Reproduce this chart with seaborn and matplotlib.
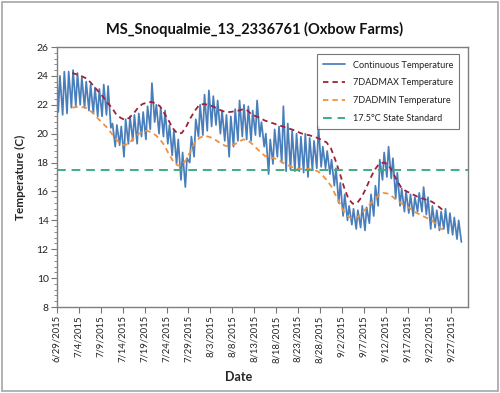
import numpy as np
import pandas as pd
import matplotlib
matplotlib.use("Agg")
import matplotlib.pyplot as plt
import matplotlib.dates as mdates
from matplotlib.ticker import MultipleLocator, FixedLocator
from matplotlib.patches import Rectangle
import seaborn as sns

# ---------------- data ----------------
start_date = "2015-06-29"
start_temp = 23.7

# daily minimum / maximum of the continuous record (one per day from 6/29)
daily_min = [21.5, 21.3, 21.4, 21.8, 21.9, 22.0, 21.8, 21.6, 21.4, 21.2, 21.2, 21.3,
             20.4, 19.1, 19.2, 18.4, 19.3, 19.5, 19.3, 19.8, 19.6, 20.3, 20.8, 20.0,
             19.8, 19.3, 18.5, 17.9, 16.8, 16.3, 18.0, 18.4, 19.8, 19.9, 20.2, 20.5,
             20.6, 20.0, 19.5, 18.4, 19.1, 19.5, 19.8, 19.6, 19.5, 19.9, 19.8, 19.1,
             17.2, 17.9, 18.4, 18.0, 17.4, 17.5, 17.4, 17.4, 17.3, 17.0, 17.5, 17.6,
             17.7, 17.6, 17.2, 16.4, 15.2, 14.3, 14.0, 13.7, 13.4, 13.5, 13.3, 13.8,
             14.3, 15.0, 16.8, 17.0, 16.9, 15.5, 15.0, 14.6, 14.5, 14.3, 14.6, 14.6,
             14.4, 13.4, 13.5, 13.3, 13.4, 13.1, 13.0, 12.7, 12.5]
daily_max = [24.0, 24.3, 24.3, 24.4, 24.2, 23.9, 23.6, 23.4, 23.2, 23.1, 23.4, 23.3,
             20.7, 20.6, 20.5, 21.0, 21.2, 21.3, 21.4, 21.5, 21.9, 23.5, 22.0, 21.8,
             21.6, 20.6, 20.2, 19.6, 18.7, 18.3, 19.8, 21.0, 22.0, 22.7, 23.0, 22.6,
             22.3, 21.6, 21.3, 21.2, 21.7, 22.3, 22.0, 21.9, 21.6, 22.3, 20.8, 20.0,
             19.6, 20.3, 20.5, 21.9, 20.7, 20.2, 20.0, 19.8, 20.0, 19.7, 19.5, 20.5,
             19.1, 18.8, 18.2, 17.6, 16.6, 15.8, 15.0, 14.8, 14.7, 15.0, 14.9, 15.8,
             16.4, 18.2, 18.7, 19.1, 18.3, 17.3, 16.2, 16.0, 15.8, 15.6, 15.9, 16.3,
             15.6, 15.0, 14.7, 14.6, 14.8, 14.5, 14.2, 14.0]

# 7-day average of daily max / min, centred, days 3..88
first_avg_day = 3
dadmax_7 = [24.2, 24.1, 24.0, 23.85, 23.6, 23.25, 22.9, 22.55, 22.15, 21.8,
            21.35, 21.1, 20.95, 21.1, 21.4, 21.8, 22.05, 22.15, 22.2, 22.1,
            21.9, 21.4, 20.9, 20.35, 20.0, 20.05, 20.5, 21.1, 21.6, 22.0,
            22.05, 22.0, 21.9, 21.75, 21.6, 21.5, 21.5, 21.55, 21.6, 21.7,
            21.6, 21.3, 21.2, 21.05, 20.9, 20.8, 20.7, 20.6, 20.5, 20.4,
            20.3, 20.2, 20.05, 19.95, 19.9, 19.8, 19.7, 19.55, 19.4, 19.0,
            18.2, 17.3, 16.3, 15.5, 15.15, 15.2, 15.6, 16.2, 16.9, 17.5,
            17.9, 18.0, 17.9, 17.4, 16.8, 16.3, 16.05, 15.9, 15.75, 15.6,
            15.5, 15.4, 15.3, 15.1, 14.85, 14.6]
dadmin_7 = [21.8, 21.85, 21.85, 21.8, 21.6, 21.35, 21.0, 20.7, 20.4, 20.0,
            19.6, 19.3, 19.2, 19.35, 19.7, 19.95, 20.15, 20.2, 20.1, 19.9,
            19.6, 19.2, 18.6, 18.1, 17.8, 17.8, 18.2, 18.8, 19.4, 19.7,
            19.85, 19.8, 19.7, 19.5, 19.3, 19.15, 19.15, 19.25, 19.45, 19.6,
            19.55, 19.3, 19.0, 18.7, 18.45, 18.35, 18.3, 18.2, 18.0, 17.85,
            17.7, 17.6, 17.55, 17.55, 17.55, 17.5, 17.4, 17.15, 16.8, 16.4,
            15.8, 15.2, 14.6, 14.25, 14.1, 14.2, 14.5, 14.8, 15.15, 15.45,
            15.75, 15.9, 15.85, 15.65, 15.4, 15.2, 15.0, 14.85, 14.6, 14.45,
            14.3, 14.15, 14.0, 13.75, 13.45, 13.3]

state_standard = 17.5

tick_labels = ["6/29/2015", "7/4/2015", "7/9/2015", "7/14/2015", "7/19/2015",
               "7/24/2015", "7/29/2015", "8/3/2015", "8/8/2015", "8/13/2015",
               "8/18/2015", "8/23/2015", "8/28/2015", "9/2/2015", "9/7/2015",
               "9/12/2015", "9/17/2015", "9/22/2015", "9/27/2015"]
y_ticks = [8, 10, 12, 14, 16, 18, 20, 22, 24, 26]

# ---------------- frames ----------------
t0 = pd.Timestamp(start_date)
times, temps = [t0], [start_temp]
for d, tmin in enumerate(daily_min):
    times.append(t0 + pd.Timedelta(hours=24 * d + 7))
    temps.append(tmin)
    if d < len(daily_max):
        times.append(t0 + pd.Timedelta(hours=24 * d + 16))
        temps.append(daily_max[d])
cont = pd.DataFrame({"time": times, "temp": temps})

avg_times = [t0 + pd.Timedelta(hours=24 * (first_avg_day + i) + 12) for i in range(len(dadmax_7))]
dmax = pd.DataFrame({"time": avg_times, "temp": dadmax_7})
dmin = pd.DataFrame({"time": avg_times, "temp": dadmin_7})

# ---------------- plot ----------------
sns.set_theme(style="white")
plt.rcParams['font.family'] = ['Lato', 'DejaVu Sans']

fig = plt.figure(figsize=(5.0, 3.93), dpi=100)
ax = fig.add_axes([0.114, 0.2188, 0.822, 0.6616])

blue = "#4A7EBB"
red = "#9E2236"
orange = "#F0913F"
green = "#3FAE7E"

sns.lineplot(data=cont, x="time", y="temp", ax=ax, color=blue, lw=1.25,
             label="Continuous Temperature")
sns.lineplot(data=dmax, x="time", y="temp", ax=ax, color=red, lw=1.3,
             label="7DADMAX Temperature")
sns.lineplot(data=dmin, x="time", y="temp", ax=ax, color=orange, lw=1.3,
             label="7DADMIN Temperature")
ax.lines[1].set_dashes([3, 2.2])
ax.lines[2].set_dashes([3, 2.2])
ax.axhline(state_standard, color=green, lw=1.4, dashes=[4.5, 3],
           label="17.5\u00b0C State Standard")

ax.set_ylim(y_ticks[0], y_ticks[-1])
ax.set_xlim(t0, t0 + pd.Timedelta(days=93.8))
ax.yaxis.set_major_locator(FixedLocator(y_ticks))
ax.yaxis.set_minor_locator(MultipleLocator(0.4))
tick_pos = [mdates.date2num(pd.to_datetime(s, format="%m/%d/%Y")) for s in tick_labels]
ax.xaxis.set_major_locator(FixedLocator(tick_pos))
ax.set_xticklabels(tick_labels, rotation=90, fontsize=6.8, color="#222222")
ax.set_yticklabels([str(v) for v in y_ticks], fontsize=7.5, color="#222222")

ax.tick_params(axis="both", which="major", direction="out", length=4, width=0.8,
               color="#777777", pad=2, bottom=True, left=True)
ax.tick_params(axis="y", which="minor", direction="out", length=2, width=0.6,
               color="#777777", left=True)

for s in ax.spines.values():
    s.set_color("#7F7F7F")
    s.set_linewidth(1.0)

ax.set_xlabel("Date", fontsize=9, fontweight="bold")
ax.set_ylabel("Temperature (C)", fontsize=8.5, fontweight="bold", labelpad=8)
ax.xaxis.set_label_coords(0.442, -0.245)

leg = ax.legend(loc="upper right", bbox_to_anchor=(0.99, 0.99), fontsize=6.6,
                frameon=True, fancybox=False, edgecolor="#555555",
                handlelength=2.4, labelspacing=0.95, borderpad=0.7,
                handletextpad=0.8)
leg.get_frame().set_linewidth(0.8)
for t in leg.get_texts():
    t.set_color("#222222")

fig.text(0.51, 0.926, "MS_Snoqualmie_13_2336761 (Oxbow Farms)", ha="center",
         va="center", fontsize=10.5, fontweight="bold", color="#111111")

fig.patches.append(Rectangle((0.004, 0.004), 0.992, 0.992, transform=fig.transFigure,
                             fill=False, edgecolor="#A6A6A6", lw=1.2))

fig.savefig("out.png", dpi=100)
